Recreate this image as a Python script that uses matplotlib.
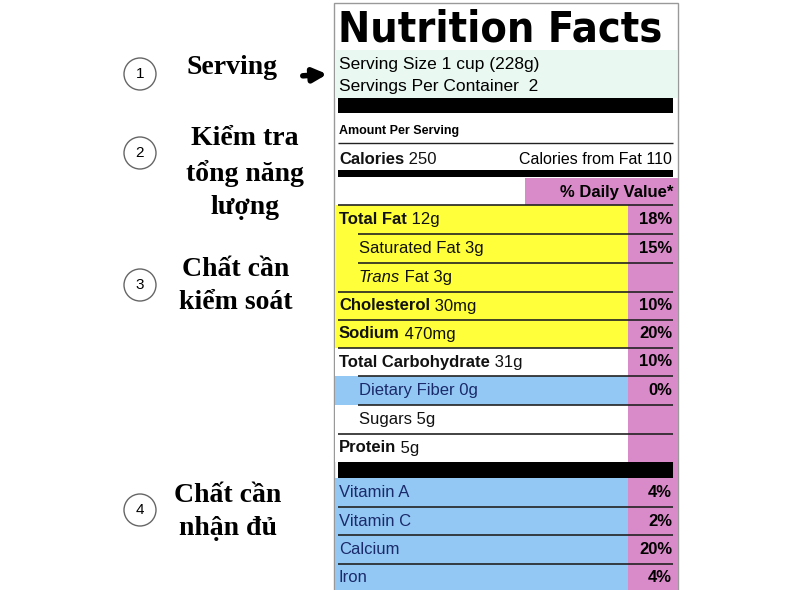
import matplotlib
matplotlib.use("Agg")
import matplotlib.pyplot as plt
from matplotlib.patches import Rectangle, Circle

# ---- data ----
row_bold = ["Total Fat", "", "", "Cholesterol", "Sodium", "Total Carbohydrate", "", "", "Protein"]
row_rest = [" 12g", "Saturated Fat 3g", "Trans Fat 3g", " 30mg", " 470mg", " 31g", "Dietary Fiber 0g", "Sugars 5g", " 5g"]
row_pct = ["18%", "15%", "", "10%", "20%", "10%", "0%", "", ""]
row_indent = [0, 1, 1, 0, 0, 0, 1, 1, 0]
row_color = ["y", "y", "y", "y", "y", "w", "b", "w", "w"]
vit_names = ["Vitamin A", "Vitamin C", "Calcium", "Iron"]
vit_pct = ["4%", "2%", "20%", "4%"]
side_nums = ["1", "2", "3", "4"]
side_texts = ["Serving", "Kiểm tra\ntổng năng\nlượng", "Chất cần\nkiểm soát", "Chất cần\nnhận đủ"]

YEL, BLU, PNK, MINT = "#ffff3a", "#94c8f4", "#d98ac8", "#e9f8f1"
X0, X1, XP = 334, 678, 628
SANS = ["Liberation Sans", "DejaVu Sans"]

fig = plt.figure(figsize=(8, 5.9), dpi=100)
ax = fig.add_axes([0, 0, 1, 1])
ax.set_xlim(0, 800); ax.set_ylim(590, 0); ax.axis("off")

def rect(x, y, w, h, c):
    ax.add_patch(Rectangle((x, y), w, h, facecolor=c, edgecolor="none"))

def hline(y, x0=X0 + 4, lw=1.2):
    ax.plot([x0, X1 - 5], [y, y], color="#222", lw=lw, solid_capstyle="butt")

fig.canvas.draw()
rend = fig.canvas.get_renderer()

def two_part(x, y, bold, rest, color="#111", size=12, italic_first=None):
    px = x
    if bold:
        t = ax.text(px, y, bold, fontsize=size, fontweight="bold", family=SANS, va="center", color=color)
        bb = t.get_window_extent(rend)
        px = ax.transData.inverted().transform((bb.x1, 0))[0]
    if italic_first:
        t = ax.text(px, y, italic_first, fontsize=size, style="italic", family=SANS, va="center", color=color)
        bb = t.get_window_extent(rend)
        px = ax.transData.inverted().transform((bb.x1, 0))[0]
    ax.text(px, y, rest, fontsize=size, family=SANS, va="center", color=color)

# outer frame
ax.add_patch(Rectangle((X0, 3), X1 - X0, 590, facecolor="white", edgecolor="#999", lw=1))
ax.text(X0 + 4, 29, "Nutrition Facts", fontsize=31, fontweight="bold", va="center",
        family=["Liberation Sans Narrow", "DejaVu Sans Condensed", "DejaVu Sans"], fontstretch="condensed")
rect(X0 + 1, 50, X1 - X0 - 2, 48, MINT)
ax.text(X0 + 5, 64, "Serving Size 1 cup (228g)", fontsize=12.5, family=SANS, va="center")
ax.text(X0 + 5, 87, "Servings Per Container  2", fontsize=12.5, family=SANS, va="center")
rect(X0 + 4, 98, X1 - X0 - 9, 15, "black")
ax.text(X0 + 5, 131, "Amount Per Serving", fontsize=9, fontweight="bold", family=SANS, va="center")
hline(143, lw=1)
two_part(X0 + 5, 159, "Calories", " 250", size=12)
ax.text(X1 - 6, 159, "Calories from Fat 110", fontsize=11.5, family=SANS, va="center", ha="right")
rect(X0 + 4, 170, X1 - X0 - 9, 7, "black")
rect(525, 178, X1 - 525, 27, PNK)
ax.text(X1 - 5, 192, "% Daily Value*", fontsize=12, fontweight="bold", family=SANS, va="center", ha="right")
hline(205)

tops = [205, 234, 263, 292, 320, 348, 376, 405, 434, 462]
cmap = {"y": YEL, "b": BLU, "w": "white"}
for i in range(len(row_bold)):
    y0, y1 = tops[i], tops[i + 1]
    rect(X0 + 1, y0, XP - X0 - 1, y1 - y0, cmap[row_color[i]])
    rect(XP, y0, X1 - XP, y1 - y0, PNK)
    x = X0 + 5 + 20 * row_indent[i]
    col = "#1a2a6a" if row_color[i] == "b" else "#111"
    if row_rest[i].startswith("Trans"):
        two_part(x, (y0 + y1) / 2, "", " Fat 3g", italic_first="Trans")
    else:
        two_part(x, (y0 + y1) / 2, row_bold[i], row_rest[i], color=col)
    if row_pct[i]:
        ax.text(X1 - 6, (y0 + y1) / 2, row_pct[i], fontsize=12, fontweight="bold", family=SANS, va="center", ha="right")
    if i < len(row_bold) - 1:
        hline(y1, x0=X0 + 4 + 20 * row_indent[i + 1] if row_indent[i + 1] else X0 + 4)
rect(XP, 462, X1 - XP, 16, PNK)
rect(X0 + 4, 462, X1 - X0 - 9, 16, "black")
vt = [478, 507, 535, 564, 592]
for i in range(len(vit_names)):
    y0, y1 = vt[i], vt[i + 1]
    rect(X0 + 1, y0, XP - X0 - 1, y1 - y0, BLU)
    rect(XP, y0, X1 - XP, y1 - y0, PNK)
    ax.text(X0 + 5, (y0 + y1) / 2, vit_names[i], fontsize=12, family=SANS, va="center", color="#1a2a6a")
    ax.text(X1 - 6, (y0 + y1) / 2, vit_pct[i], fontsize=12, fontweight="bold", family=SANS, va="center", ha="right")
    if i < len(vit_names) - 1:
        hline(y1)

# side annotations
circ_y = [74, 153, 285, 510]
txt_x = [232, 245, 236, 228]
txt_y = [68, 173, 286, 512]
for i in range(4):
    ax.add_patch(Circle((140, circ_y[i]), 16, facecolor="white", edgecolor="#666", lw=1))
    ax.text(140, circ_y[i], side_nums[i], fontsize=11, ha="center", va="center", family=SANS)
    ax.text(txt_x[i], txt_y[i], side_texts[i], fontsize=20, fontweight="bold", ha="center", va="center",
            family=["Liberation Serif", "DejaVu Serif"], linespacing=1.4)
ax.annotate("", xy=(330, 74), xytext=(300, 76),
            arrowprops=dict(arrowstyle="-|>", color="black", lw=4, mutation_scale=20))

fig.savefig("out.png", dpi=100)
